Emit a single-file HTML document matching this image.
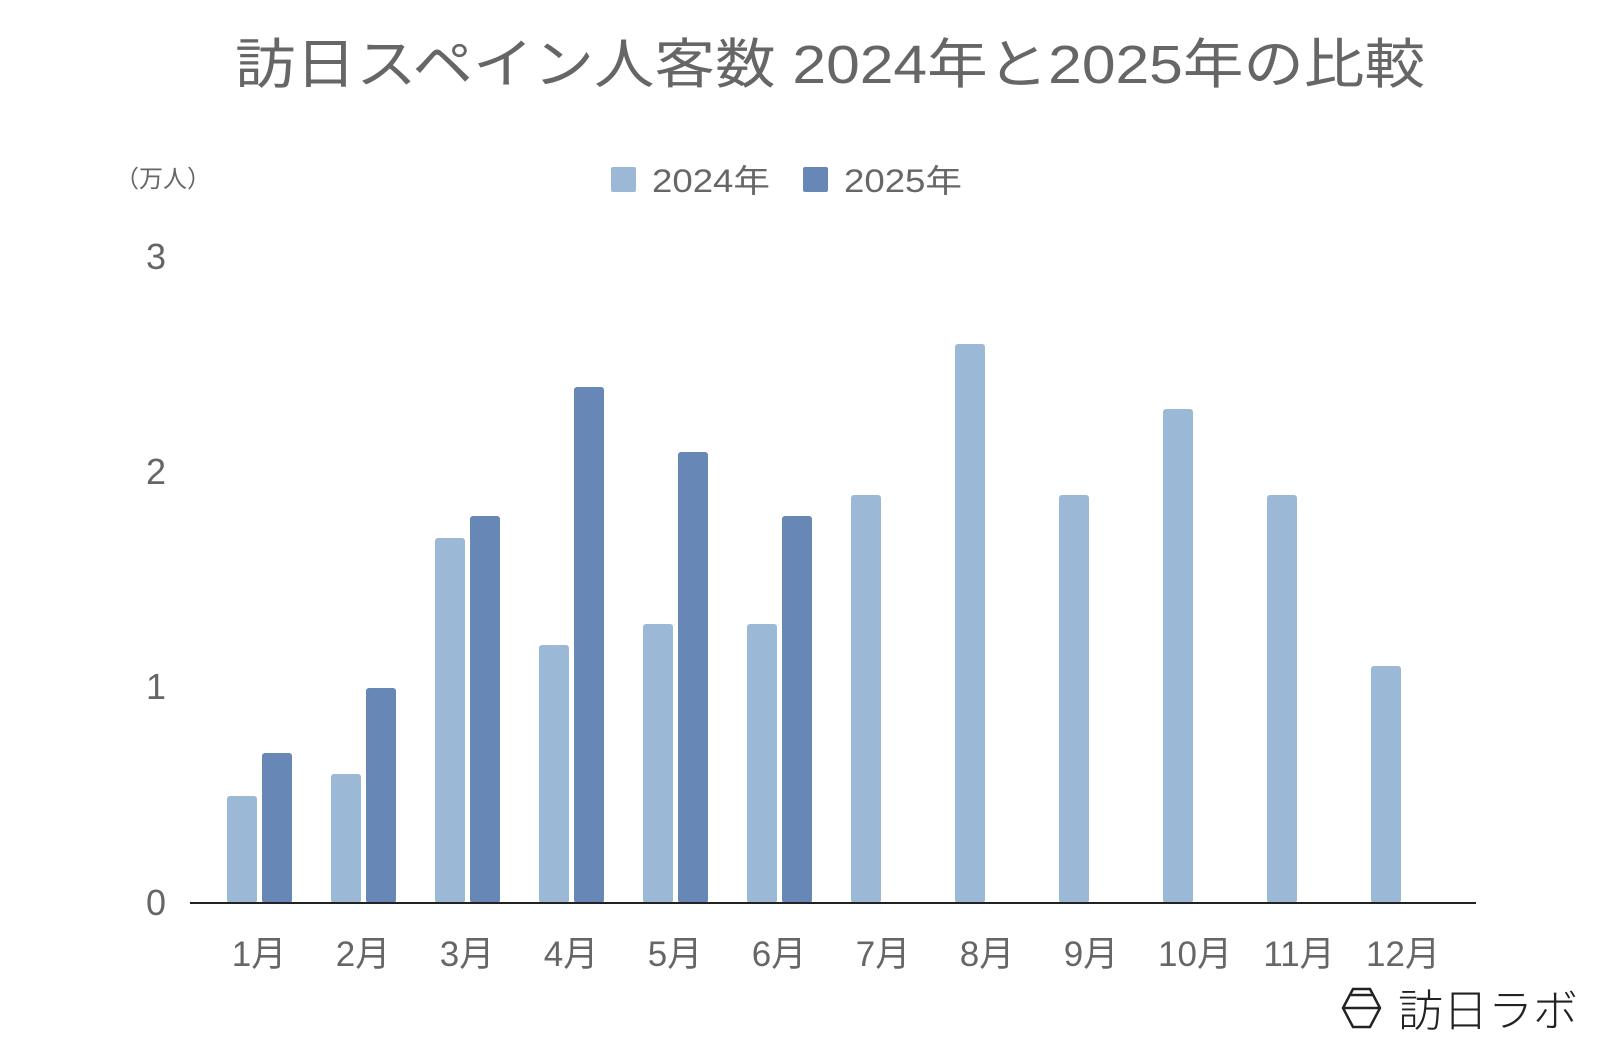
<!DOCTYPE html>
<html><head><meta charset="utf-8"><style>
html,body{margin:0;padding:0;background:#fff;}
svg{display:block;font-family:"Liberation Sans","Noto Sans CJK JP",sans-serif;}
</style></head><body>
<svg width="1600" height="1043" viewBox="0 0 1600 1043" xmlns="http://www.w3.org/2000/svg">
<rect width="1600" height="1043" fill="#fff"/>
<text x="235" y="83" font-size="54" fill="#666" textLength="1190" lengthAdjust="spacingAndGlyphs">訪日スペイン人客数 2024年と2025年の比較</text>
<text x="115" y="187" font-size="24" fill="#666">（万人）</text>
<rect x="611" y="167" width="25" height="25" rx="2" fill="#9bb8d7"/>
<text x="652" y="192" font-size="32" fill="#666" textLength="118" lengthAdjust="spacingAndGlyphs">2024年</text>
<rect x="803" y="167" width="25" height="25" rx="2" fill="#6787b7"/>
<text x="844" y="192" font-size="32" fill="#666" textLength="118" lengthAdjust="spacingAndGlyphs">2025年</text>
<g font-size="36" fill="#666" text-anchor="middle">
<text x="156" y="269">3</text>
<text x="156" y="484">2</text>
<text x="156" y="699">1</text>
<text x="156" y="915">0</text>
</g>
<g fill="#9bb8d7">
<rect x="227" y="796" width="30" height="107" rx="3"/>
<rect x="331" y="774" width="30" height="129" rx="3"/>
<rect x="435" y="538" width="30" height="365" rx="3"/>
<rect x="539" y="645" width="30" height="258" rx="3"/>
<rect x="643" y="624" width="30" height="279" rx="3"/>
<rect x="747" y="624" width="30" height="279" rx="3"/>
<rect x="851" y="495" width="30" height="408" rx="3"/>
<rect x="955" y="344" width="30" height="559" rx="3"/>
<rect x="1059" y="495" width="30" height="408" rx="3"/>
<rect x="1163" y="409" width="30" height="494" rx="3"/>
<rect x="1267" y="495" width="30" height="408" rx="3"/>
<rect x="1371" y="666" width="30" height="237" rx="3"/>
</g>
<g fill="#6787b7">
<rect x="262" y="753" width="30" height="150" rx="3"/>
<rect x="366" y="688" width="30" height="215" rx="3"/>
<rect x="470" y="516" width="30" height="387" rx="3"/>
<rect x="574" y="387" width="30" height="516" rx="3"/>
<rect x="678" y="452" width="30" height="451" rx="3"/>
<rect x="782" y="516" width="30" height="387" rx="3"/>
</g>
<line x1="190" y1="903" x2="1476" y2="903" stroke="#222" stroke-width="2"/>
<g font-size="35" fill="#666" text-anchor="middle">
<text x="259" y="966">1月</text>
<text x="363" y="966">2月</text>
<text x="467" y="966">3月</text>
<text x="571" y="966">4月</text>
<text x="675" y="966">5月</text>
<text x="779" y="966">6月</text>
<text x="883" y="966">7月</text>
<text x="987" y="966">8月</text>
<text x="1091" y="966">9月</text>
<text x="1195" y="966">10月</text>
<text x="1299" y="966">11月</text>
<text x="1403" y="966">12月</text>
</g>
<g fill="none" stroke="#222" stroke-width="2.5">
<polygon points="1343,1008 1353,989 1370,989 1380,1008 1370,1027 1353,1027"/>
<line x1="1343" y1="1008" x2="1380" y2="1008"/>
<line x1="1351" y1="995" x2="1372" y2="995"/>
</g>
<text x="1398" y="1026" font-size="44" fill="#222" font-weight="300" textLength="180" lengthAdjust="spacingAndGlyphs">訪日ラボ</text>
</svg>
</body></html>
